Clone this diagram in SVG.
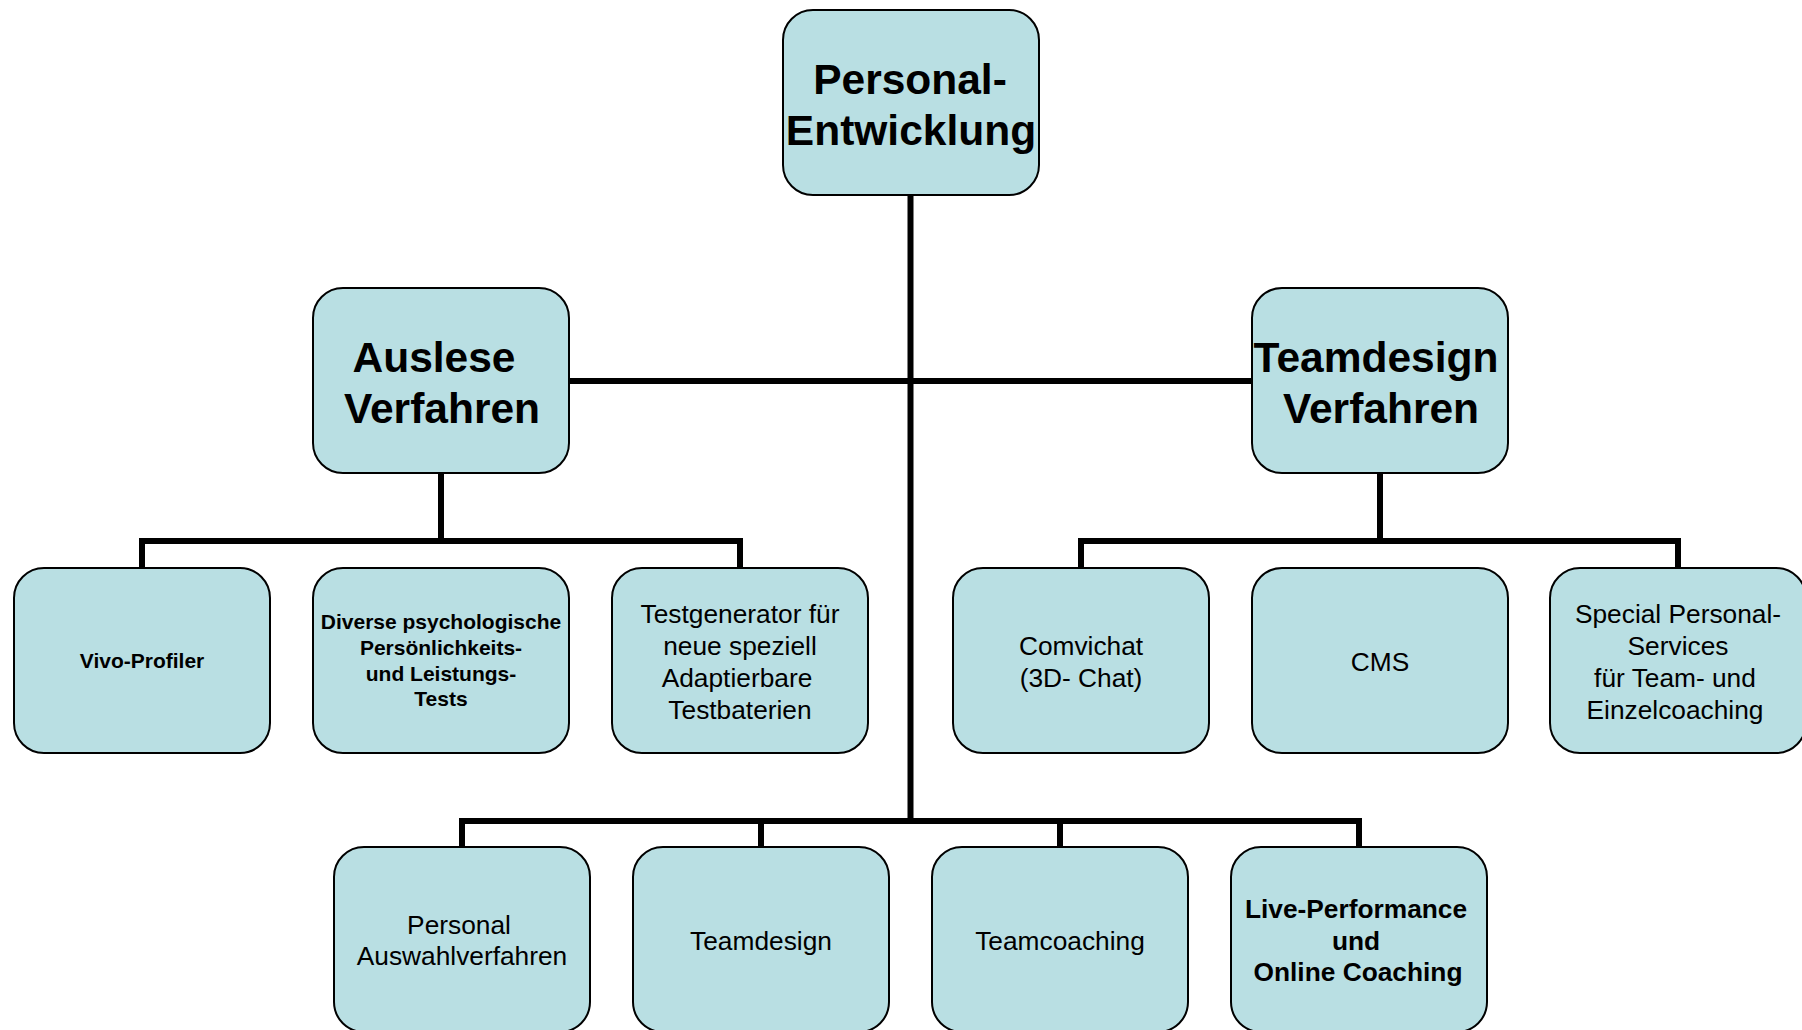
<svg xmlns="http://www.w3.org/2000/svg" width="1802" height="1030" viewBox="0 0 1802 1030">
<style>
.box{fill:#B9DFE3;stroke:#000;stroke-width:2}
.ln{fill:none;stroke:#000;stroke-width:6;stroke-linecap:butt}
text{font-family:"Liberation Sans",Arial,sans-serif;fill:#000;text-anchor:middle}
.big{font-size:42.5px;font-weight:bold}
.sb{font-size:21px;font-weight:bold}
.r{font-size:26.3px}
.b{font-size:26.3px;font-weight:bold}
</style>
<rect width="1802" height="1030" fill="#fff"/>
<g id="connectors">
<path class="ln" d="M910.5 195 V821"/>
<path class="ln" d="M569 381 H1252"/>
<path class="ln" d="M441 473 V541 M142 568 V541 H740 V568"/>
<path class="ln" d="M1380 473 V541 M1081 568 V541 H1678 V568"/>
<path class="ln" d="M462 847 V821 H1359 V847 M761 821 V847 M1060 821 V847"/>
</g>
<g id="root"><rect class="box" x="783" y="10" width="256" height="185" rx="30"/>
<text class="big" x="910" y="94">Personal-</text><text class="big" x="911" y="145">Entwicklung</text></g>
<g id="auslese"><rect class="box" x="313" y="288" width="256" height="185" rx="30"/>
<text class="big" x="434" y="372">Auslese</text><text class="big" x="442" y="423">Verfahren</text></g>
<g id="teamdesign-verfahren"><rect class="box" x="1252" y="288" width="256" height="185" rx="30"/>
<text class="big" x="1376" y="372">Teamdesign</text><text class="big" x="1381" y="423">Verfahren</text></g>
<g id="vivo"><rect class="box" x="14" y="568" width="256" height="185" rx="30"/>
<text class="sb" x="142" y="668">Vivo-Profiler</text></g>
<g id="diverse"><rect class="box" x="313" y="568" width="256" height="185" rx="30"/>
<text class="sb" x="441" y="629">Diverse psychologische</text><text class="sb" x="441" y="655">Persönlichkeits-</text><text class="sb" x="441" y="681">und Leistungs-</text><text class="sb" x="441" y="706">Tests</text></g>
<g id="testgenerator"><rect class="box" x="612" y="568" width="256" height="185" rx="30"/>
<text class="r" x="740" y="623">Testgenerator für</text><text class="r" x="740" y="655">neue speziell</text><text class="r" x="737" y="687">Adaptierbare</text><text class="r" x="740" y="719">Testbaterien</text></g>
<g id="comvichat"><rect class="box" x="953" y="568" width="256" height="185" rx="30"/>
<text class="r" x="1081" y="655">Comvichat</text><text class="r" x="1081" y="687">(3D- Chat)</text></g>
<g id="cms"><rect class="box" x="1252" y="568" width="256" height="185" rx="30"/>
<text class="r" x="1380" y="671">CMS</text></g>
<g id="special"><rect class="box" x="1550" y="568" width="256" height="185" rx="30"/>
<text class="r" x="1678" y="623">Special Personal-</text><text class="r" x="1678" y="655">Services</text><text class="r" x="1675" y="687">für Team- und</text><text class="r" x="1675" y="719">Einzelcoaching</text></g>
<g id="personal-auswahl"><rect class="box" x="334" y="847" width="256" height="185" rx="30"/>
<text class="r" x="459" y="934">Personal</text><text class="r" x="462" y="965">Auswahlverfahren</text></g>
<g id="teamdesign"><rect class="box" x="633" y="847" width="256" height="185" rx="30"/>
<text class="r" x="761" y="950">Teamdesign</text></g>
<g id="teamcoaching"><rect class="box" x="932" y="847" width="256" height="185" rx="30"/>
<text class="r" x="1060" y="950">Teamcoaching</text></g>
<g id="live"><rect class="box" x="1231" y="847" width="256" height="185" rx="30"/>
<text class="b" x="1356" y="918">Live-Performance</text><text class="b" x="1356" y="950">und</text><text class="b" x="1358" y="981">Online Coaching</text></g>
</svg>
